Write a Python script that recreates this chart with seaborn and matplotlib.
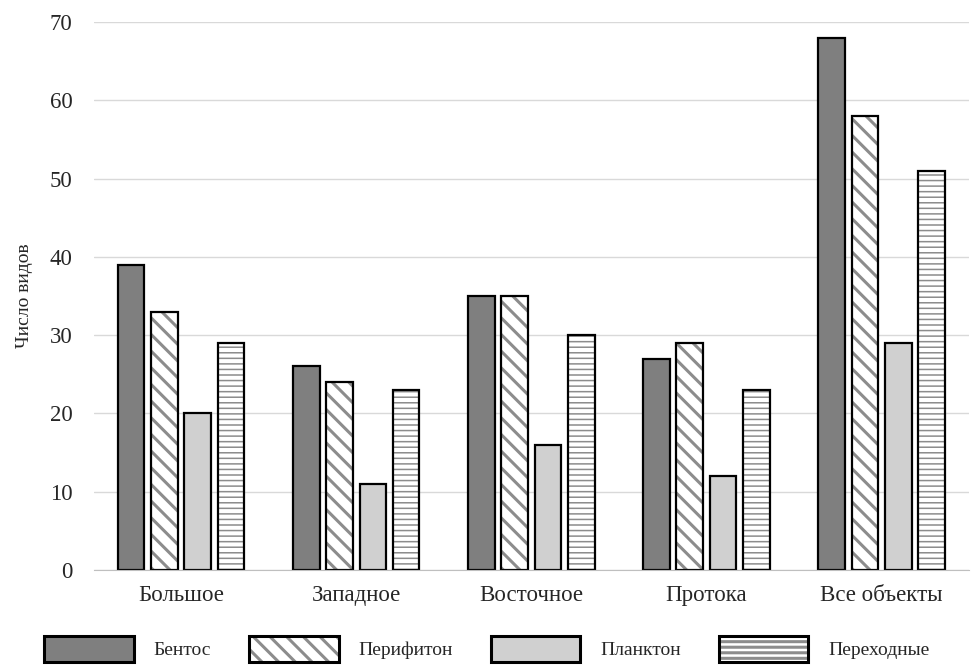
import matplotlib
matplotlib.use("Agg")
import matplotlib.pyplot as plt
import pandas as pd
import seaborn as sns
from matplotlib.legend_handler import HandlerTuple
from matplotlib.patches import Patch, Rectangle

# values
categories = ["Большое", "Западное", "Восточное", "Протока", "Все объекты"]
groups = ["Бентос", "Перифитон", "Планктон", "Переходные"]
bentos = [39, 26, 35, 27, 68]
perifiton = [33, 24, 35, 29, 58]
plankton = [20, 11, 16, 12, 29]
perehodnye = [29, 23, 30, 23, 51]

df = pd.DataFrame({
    "cat": categories * 4,
    "group": [g for g in groups for _ in categories],
    "value": bentos + perifiton + plankton + perehodnye,
})

sns.set_style("white")
plt.rcParams["font.family"] = ["Liberation Serif", "DejaVu Serif"]
plt.rcParams["hatch.linewidth"] = 2.2

# fill colour, hatch and hatch line width for each group
styles = {
    "Бентос": ("#7f7f7f", "", 1.0),
    "Перифитон": ("white", "\\\\", 2.2),
    "Планктон": ("#d0d0d0", "", 1.0),
    "Переходные": ("white", "---", 1.1),
}
hatch_grey = "#8c8c8c"


def set_hatch_lw(p, lw):
    if hasattr(p, "set_hatch_linewidth"):
        p.set_hatch_linewidth(lw)


fig, ax = plt.subplots(figsize=(9.74, 6.65), dpi=100)
fig.subplots_adjust(left=0.096, right=0.995, top=0.967, bottom=0.143)

sns.barplot(data=df, x="cat", y="value", hue="group", hue_order=groups,
            order=categories, ax=ax, width=0.76, gap=0.2, legend=False,
            linewidth=0)

# hatch takes the edge colour, so the bars get a grey edge and a black outline on top
for cont, g in zip(ax.containers, groups):
    face, hatch, hlw = styles[g]
    for bar in cont:
        bar.set_facecolor(face)
        bar.set_hatch(hatch)
        bar.set_edgecolor(hatch_grey)
        set_hatch_lw(bar, hlw)
        ax.add_patch(Rectangle(bar.get_xy(), bar.get_width(), bar.get_height(),
                               fill=False, edgecolor="black", linewidth=1.6,
                               zorder=bar.get_zorder() + 0.1))

ax.set_ylim(0, 70)
ax.set_yticks(range(0, 71, 10))
ax.yaxis.grid(True, color="#d9d9d9", linewidth=1)
ax.set_axisbelow(True)
for s in ["top", "right", "left"]:
    ax.spines[s].set_visible(False)
ax.spines["bottom"].set_color("#bfbfbf")
ax.tick_params(axis="both", length=0, labelsize=16.5)
ax.tick_params(axis="x", pad=11)
ax.tick_params(axis="y", pad=15)
ax.set_xlabel("")
ax.set_ylabel("Число видов", fontsize=14, labelpad=12)


def legend_handle(g):
    face, hatch, hlw = styles[g]
    fill = Patch(facecolor=face, hatch=hatch, edgecolor=hatch_grey, linewidth=0)
    set_hatch_lw(fill, hlw)
    outline = Patch(fill=False, edgecolor="black", linewidth=2.2)
    return (fill, outline)


handles = [legend_handle(g) for g in groups]
fig.legend(handles, groups, loc="lower center", ncol=4, frameon=False,
           bbox_to_anchor=(0.5, -0.022), fontsize=14, handlelength=4.6,
           handleheight=1.7, columnspacing=1.95, handletextpad=1.03,
           handler_map={tuple: HandlerTuple(ndivide=1, pad=0)})

fig.savefig("out.png", dpi=100)
